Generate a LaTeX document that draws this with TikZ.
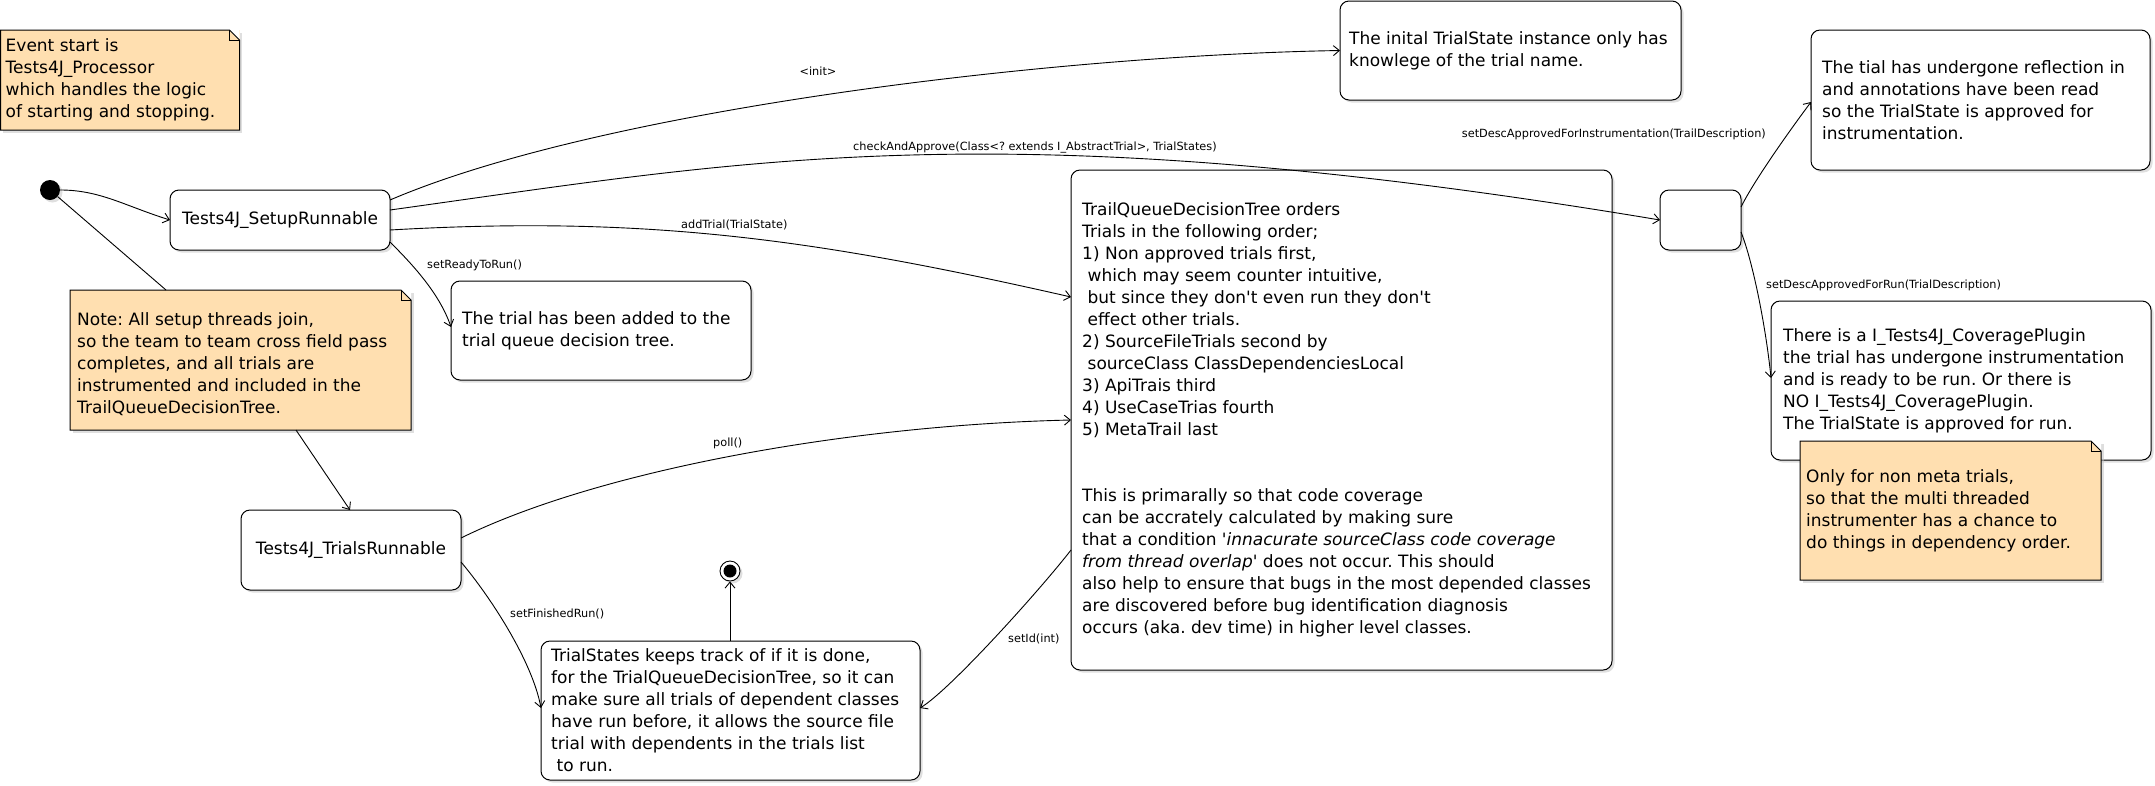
\documentclass[tikz,border=0pt]{standalone}
\usepackage{fontspec}
\setmainfont{DejaVu Sans}
\usetikzlibrary{arrows.meta,shadows,calc}
\definecolor{notefill}{RGB}{255,223,176}
\frenchspacing
\newcommand\bodyfont{\fontsize{17}{22}\selectfont}
\newcommand\lblfont{\fontsize{11.3}{13}\selectfont}
\newcommand\lsp{\hspace*{0.32em}}
\newcommand\apq{\textquotesingle}
\newcommand\mynotefold[1]{%
  \fill[white] ($(#1.north east)+(-10,0)$) -- (#1.north east) -- ($(#1.north east)+(0,10)$) -- cycle;
  \draw[line width=1pt] (#1.north west) -- ($(#1.north east)+(-10,0)$) -- ($(#1.north east)+(0,10)$) -- (#1.south east) -- (#1.south west) -- cycle;
  \draw[foldline] ($(#1.north east)+(-10,0)$) -- ($(#1.north east)+(-10,10)$) -- ($(#1.north east)+(0,10)$);}
\begin{document}
\frenchspacing
\begin{tikzpicture}[x=1pt,y=-1pt,
  shadowed/.style={drop shadow={shadow xshift=2.5pt,shadow yshift=-2.5pt,fill=black!25}},
  statebox/.style={draw, line width=1pt, rounded corners=9pt, fill=white, anchor=north west, outer sep=0pt, inner sep=0pt, shadowed},
  notebox/.style={fill=notefill, anchor=north west, outer sep=0pt, inner sep=0pt, shadowed},
  boxtext/.style={anchor=west, align=left, inner sep=0pt, font=\bodyfont\frenchspacing},
  lbl/.style={inner sep=0pt, font=\lblfont},
  conn/.style={line width=0.9pt},
  arr/.style={conn, -{Straight Barb[length=6pt,width=10pt]}},
  foldline/.style={line width=0.8pt}]
\useasboundingbox (0,0) rectangle (2155,785);

% ---------- state boxes ----------
\node[statebox, minimum width=220pt, minimum height=60pt, font=\bodyfont] (setup) at (170,190) {Tests4J\_SetupRunnable};
\node[statebox, minimum width=220pt, minimum height=80pt, font=\bodyfont] (trials) at (241,510) {Tests4J\_TrialsRunnable};
\node[statebox, minimum width=300pt, minimum height=99pt] (ready) at (451,281) {};
\node[statebox, minimum width=341pt, minimum height=99pt] (inital) at (1340,1) {};
\node[statebox, minimum width=541pt, minimum height=500pt] (big) at (1071,170) {};
\node[statebox, minimum width=81pt, minimum height=60pt] (small) at (1660,190) {};
\node[statebox, minimum width=339pt, minimum height=140pt] (refl) at (1811,30) {};
\node[statebox, minimum width=380pt, minimum height=159pt] (cov) at (1771,301) {};
\node[statebox, minimum width=379pt, minimum height=139pt] (trialst) at (541,641) {};

\node[boxtext] (readyt) at ($(ready.west)+(11,0)$) {The trial has been added to the\\trial queue decision tree.};
\node[boxtext] (initalt) at ($(inital.west)+(9,0)$) {The inital TrialState instance only has\\knowlege of the trial name.};
\node[boxtext] (bigt) at ($(big.west)+(11,0)$) {TrailQueueDecisionTree orders\\
Trials in the following order;\\
1) Non approved trials first,\\
\lsp which may seem counter intuitive,\\
\lsp but since they don\apq t even run they don\apq t\\
\lsp effect other trials.\\
2) SourceFileTrials second by\\
\lsp sourceClass ClassDependenciesLocal\\
3) ApiTrais third\\
4) UseCaseTrias fourth\\
5) MetaTrail last\\
\mbox{}\\
\mbox{}\\
This is primarally so that code coverage\\
can be accrately calculated by making sure\\
that a condition \textit{\apq innacurate sourceClass code coverage}\\
\textit{from thread overlap\apq} does not occur. This should\\
also help to ensure that bugs in the most depended classes\\
are discovered before bug identification diagnosis\\
occurs (aka. dev time) in higher level classes.};
\node[boxtext] (reflt) at ($(refl.west)+(11,0)$) {The tial has undergone reflection in\\and annotations have been read\\so the TrialState is approved for\\instrumentation.};
\node[boxtext] (covt) at ($(cov.west)+(12,0)$) {There is a I\_Tests4J\_CoveragePlugin\\the trial has undergone instrumentation\\and is ready to be run. Or there is\\NO I\_Tests4J\_CoveragePlugin.\\The TrialState is approved for run.};
\node[boxtext] (trialstt) at ($(trialst.west)+(10,0)$) {TrialStates keeps track of if it is done,\\for the TrialQueueDecisionTree, so it can\\make sure all trials of dependent classes\\have run before, it allows the source file\\trial with dependents in the trials list\\\lsp to run.};

% ---------- pseudo states ----------
\node[circle, fill=black, minimum size=20pt, inner sep=0pt, shadowed] (start) at (50,190) {};
\node[circle, draw, fill=white, line width=0.9pt, minimum size=20pt, inner sep=0pt, shadowed] (final) at (730,571) {};
\node[circle, fill=black, minimum size=13pt, inner sep=0pt] (finaldot) at (final.center) {};

% ---------- notes ----------
\node[notebox, minimum width=239pt, minimum height=100pt] (note1) at (0.5,30) {};
\mynotefold{note1}
\node[boxtext] (note1t) at ($(note1.west)+(5,0)$) {Event start is\\Tests4J\_Processor\\which handles the logic\\of starting and stopping.};

\node[notebox, minimum width=341pt, minimum height=140pt] (note2) at (70,290) {};
\mynotefold{note2}
\node[boxtext] (note2t) at ($(note2.west)+(7,0)$) {\mbox{}\\Note: All setup threads join,\\so the team to team cross field pass\\completes, and all trials are\\instrumented and included in the\\TrailQueueDecisionTree.};

\node[notebox, minimum width=301pt, minimum height=139pt] (note3) at (1800,441) {};
\mynotefold{note3}
\node[boxtext] (note3t) at ($(note3.west)+(6,0)$) {Only for non meta trials,\\so that the multi threaded\\instrumenter has a chance to\\do things in dependency order.};

% ---------- connectors ----------
\coordinate (n2top) at ($(note2.north west)+(96,0)$);
\coordinate (n2bot) at ($(note2.south west)+(226,0)$);
\draw[arr] (start.east) .. controls +(40,0) and +(-45,-14) .. (setup.west);
\draw[conn] (start) -- (n2top);
\draw[arr] (n2bot) -- ($(trials.north west)+(109,0)$);

\draw[arr] ($(setup.north east)+(0,10)$) .. controls +(210,-90) and +(-290,5) .. (inital.west);
\draw[arr] ($(setup.north east)+(0,20)$) .. controls +(360,-50) and +(-660,-110) .. (small.west);
\draw[arr] ($(setup.north east)+(0,40)$) .. controls +(260,-15) and +(-251,-57) .. ($(big.north west)+(0,127)$);
\draw[arr] ($(setup.south east)+(0,-8)$) .. controls +(20,20) and +(-12,-35) .. ($(ready.north west)+(0,46)$);

\draw[arr] ($(trials.north east)+(0,28)$) .. controls +(138,-68) and +(-221,5) .. ($(big.north west)+(0,250)$);
\draw[arr] ($(trials.north east)+(0,52)$) .. controls +(28,33) and +(-9,-48) .. ($(trialst.north west)+(0,67)$);
\draw[arr] ($(big.north west)+(0,380)$) .. controls +(-31,40) and +(30,-18) .. ($(trialst.north east)+(0,67)$);
\draw[arr] (trialst.north -| final) -- (final);

\draw[arr] ($(small.north east)+(0,17)$) .. controls +(15,-30) and +(-15,20) .. ($(refl.north west)+(0,72)$);
\draw[arr] ($(small.north east)+(0,42)$) .. controls +(12,30) and +(-5,-50) .. ($(cov.north west)+(0,77)$);

% ---------- labels ----------
\node[lbl] (lInit) at (818,71) {<init>};
\node[lbl, anchor=west] (lCheck) at (853,148) {checkAndApprove(Class<? extends I\_AbstractTrial>, TrialStates)};
\node[lbl, anchor=west] (lAdd) at (681,225) {addTrial(TrialState)};
\node[lbl, anchor=west] (lReady) at (427,265) {setReadyToRun()};
\node[lbl, anchor=west] (lPoll) at (713,443) {poll()};
\node[lbl, anchor=west] (lFin) at (510,614) {setFinishedRun()};
\node[lbl, anchor=west] (lSetId) at (1008,639) {setId(int)};
\node[lbl, anchor=east] (lInstr) at (1766,134) {setDescApprovedForInstrumentation(TrailDescription)};
\node[lbl, anchor=west] (lRun) at (1766,285) {setDescApprovedForRun(TrialDescription)};
\end{tikzpicture}
\end{document}
